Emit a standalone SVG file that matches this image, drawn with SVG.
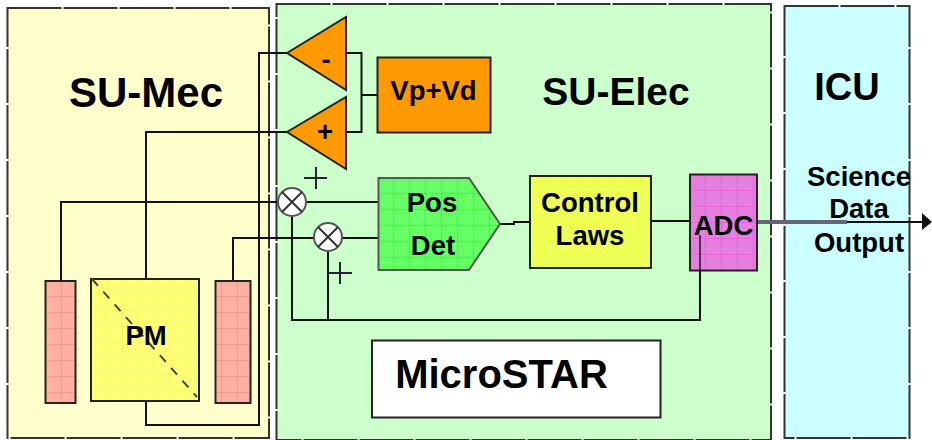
<svg xmlns="http://www.w3.org/2000/svg" width="932" height="440" viewBox="0 0 932 440">
<defs>
<pattern id="gG" width="16" height="16" patternUnits="userSpaceOnUse" x="378" y="178"><rect width="16" height="16" fill="#66ff66"/><path d="M16 0V16M0 16H16" stroke="#22ee22" fill="none"/></pattern>
<pattern id="gY" width="16" height="16" patternUnits="userSpaceOnUse" x="530" y="176"><rect width="16" height="16" fill="#eeff55"/><path d="M16 0V16M0 16H16" stroke="#ffff00" fill="none"/></pattern>
<pattern id="gM" width="16" height="16" patternUnits="userSpaceOnUse" x="690" y="175"><rect width="16" height="16" fill="#e580e0"/><path d="M16 0V16M0 16H16" stroke="#ff33ee" fill="none"/></pattern>
<pattern id="gR" width="16" height="16" patternUnits="userSpaceOnUse" x="46" y="281"><rect width="16" height="16" fill="#ffb0a0"/><path d="M16 0V16M0 16H16" stroke="#ff7777" fill="none"/></pattern>
<pattern id="gP" width="16" height="16" patternUnits="userSpaceOnUse" x="91" y="279"><rect width="16" height="16" fill="#ffff77"/><path d="M16 0V16M0 16H16" stroke="#f2f255" fill="none"/></pattern>
</defs>
<style>
text{font-family:"Liberation Sans",Arial,sans-serif;font-weight:bold;fill:#000;text-anchor:middle}
.big{font-size:42px}
.el{font-size:39px}
.icu{font-size:38px}
.mid{font-size:27.500px}
.t{font-size:40px}
.box{stroke:#222;stroke-width:2}
.zone{stroke:#333;stroke-width:2;stroke-dasharray:54 2}
.w{fill:none;stroke:#111;stroke-width:2}
</style>
<rect width="932" height="440" fill="#fff"/>
<g id="su-mec"><rect class="zone" x="7.500" y="8" width="261.500" height="430" fill="#ffffcc"/><text class="big" x="146" y="107">SU-Mec</text></g>
<g id="su-elec"><rect class="zone" x="276.500" y="4" width="494.500" height="436" fill="#ccffcc"/><text class="el" x="616" y="105">SU-Elec</text></g>
<g id="icu"><rect class="zone" x="784.500" y="6" width="125" height="432" fill="#ccffff"/><text class="icu" x="847" y="100">ICU</text></g>
<g id="connectors">
<path class="w" d="M287 53H259V425H146V361"/>
<path class="w" d="M287 132H146V279"/>
<path class="w" d="M61 281V202H278"/>
<path class="w" d="M233 281V238H378"/>
<path class="w" d="M346 53H361.500V132H346M361.500 95H378"/>
<path class="w" d="M307 202H378"/>
<path class="w" d="M292 216V320H700V271"/>
<path class="w" d="M328 252V320"/>
<path class="w" d="M500 224H514V222H530"/>
<path class="w" d="M651 221H690"/>
<path d="M757 222H847" fill="none" stroke="#667" stroke-width="4"/>
<path d="M847 222H922" fill="none" stroke="#111" stroke-width="2"/>
<path d="M922 213L932 222L922 230Z" fill="#111"/>
</g>
<g id="amp-minus"><path class="box" d="M287 53L346 17V90Z" fill="#ff9900"/><text class="mid" x="326" y="69">-</text></g>
<g id="amp-plus"><path class="box" d="M287 132L346 97V169Z" fill="#ff9900"/><text class="mid" x="325" y="141">+</text></g>
<g id="vpvd"><rect class="box" x="377.500" y="57.500" width="113" height="75" fill="#ff9900"/><text class="mid" x="433.500" y="100">Vp+Vd</text></g>
<g id="sum1"><circle cx="292" cy="202" r="14" fill="#fff" stroke="#555" stroke-width="2"/><path d="M282 192L302 212M302 192L282 212" stroke="#333" stroke-width="2"/></g>
<g id="sum2"><circle cx="328" cy="237" r="14" fill="#fff" stroke="#555" stroke-width="2"/><path d="M318 227L338 247M338 227L318 247" stroke="#333" stroke-width="2"/></g>
<g id="plus1"><path d="M304 178H327M316 167V189" stroke="#223" stroke-width="2" fill="none"/></g>
<g id="plus2"><path d="M329 273H352M340 262V284" stroke="#223" stroke-width="2" fill="none"/></g>
<g id="posdet"><path d="M378.500 178H469L500 224L469 270H378.500Z" fill="url(#gG)" stroke="#555" stroke-width="2"/><text class="mid" x="432" y="212">Pos</text><text class="mid" x="433" y="255">Det</text></g>
<g id="control"><rect class="box" x="530" y="176" width="121" height="92" fill="url(#gY)"/><text class="mid" x="590" y="212">Control</text><text class="mid" x="590" y="245">Laws</text></g>
<g id="adc"><rect class="box" x="690" y="174.500" width="67" height="96" fill="url(#gM)"/><text class="mid" x="723.500" y="235">ADC</text><path d="M700 235V271" stroke="#111" stroke-width="2" opacity=".7"/></g>
<g id="output-label"><text class="mid" x="859" y="186">Science</text><text class="mid" x="859" y="218">Data</text><text class="mid" x="859" y="252">Output</text></g>
<g id="coil-left"><rect class="box" x="45.500" y="281" width="30" height="122" fill="url(#gR)"/></g>
<g id="pm"><rect class="box" x="91" y="279" width="108" height="122" fill="url(#gP)"/><path d="M92 279L197 397" stroke="#444" stroke-width="2" stroke-dasharray="9 8" fill="none"/><text class="mid" x="146" y="345">PM</text></g>
<g id="coil-right"><rect class="box" x="215.500" y="281" width="35" height="122" fill="url(#gR)"/></g>
<g id="microstar"><rect x="372" y="340.500" width="288.500" height="77" fill="#fff" stroke="#222" stroke-width="2"/><text class="t" x="501.500" y="388">MicroSTAR</text></g>
</svg>
